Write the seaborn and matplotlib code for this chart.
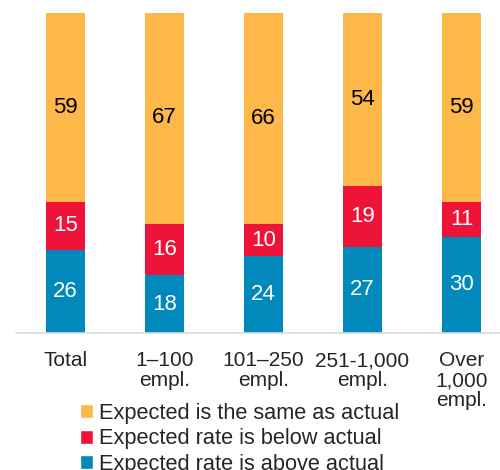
import pandas as pd
import numpy as np
import matplotlib.pyplot as plt
import seaborn as sns
from matplotlib.patches import Patch

# values (percent)
groups = ["Total", "1\u2013100\nempl.", "101\u2013250\nempl.", "251-1,000\nempl.", "Over\n1,000\nempl."]
above = [26, 18, 24, 27, 30]
below = [15, 16, 10, 19, 11]
same = [59, 67, 66, 54, 59]

series_names = ["Expected is the same as actual",
                "Expected rate is below actual",
                "Expected rate is above actual"]
colors = {"same": "#FDB849", "below": "#EE1439", "above": "#0089BA"}

df = pd.DataFrame({"group": groups, "above": above, "below": below, "same": same})
df["cum_below"] = df["above"] + df["below"]
df["cum_same"] = df["cum_below"] + df["same"]

sns.set_style("white")
plt.rcParams["font.family"] = ["Liberation Sans", "DejaVu Sans"]

fig = plt.figure(figsize=(5.0, 4.7), dpi=100)
ax = fig.add_axes([16 / 500, (470 - 333) / 470, 484 / 500, 320 / 470])

# stacked bars drawn as overlapping cumulative totals
sns.barplot(data=df, x="group", y="cum_same", color=colors["same"], width=0.4,
            saturation=1, ax=ax, linewidth=0)
sns.barplot(data=df, x="group", y="cum_below", color=colors["below"], width=0.4,
            saturation=1, ax=ax, linewidth=0)
sns.barplot(data=df, x="group", y="above", color=colors["above"], width=0.4,
            saturation=1, ax=ax, linewidth=0)

# segment labels
for i, row in df.iterrows():
    ax.text(i, row["above"] / 2, f"{row['above']}", ha="center", va="center",
            color="white", fontsize=16)
    ax.text(i, row["above"] + row["below"] / 2, f"{row['below']}", ha="center",
            va="center", color="white", fontsize=16)
    ax.text(i, row["cum_below"] + row["same"] / 2, f"{row['same']}", ha="center",
            va="center", color="black", fontsize=16)

ax.set_xlim(-0.5, -0.5 + 484 / 99)
ax.set_ylim(0, 100)
ax.set_xlabel("")
ax.set_ylabel("")
ax.set_yticks([])
ax.tick_params(axis="x", length=0, pad=13, labelsize=15)
for lbl in ax.get_xticklabels():
    lbl.set_multialignment("center")
    lbl.set_linespacing(1.08)

for side in ["top", "right", "left"]:
    ax.spines[side].set_visible(False)
ax.spines["bottom"].set_color("#d9d9d9")
ax.spines["bottom"].set_linewidth(1.2)

handles = [Patch(facecolor=colors["same"], label=series_names[0]),
           Patch(facecolor=colors["below"], label=series_names[1]),
           Patch(facecolor=colors["above"], label=series_names[2])]
fig.legend(handles=handles, loc="upper left", bbox_to_anchor=(80 / 500, 1 - 403 / 470),
           frameon=False, fontsize=15.7, handlelength=0.6, handleheight=0.6,
           handletextpad=0.25, labelspacing=0.2, borderaxespad=0, borderpad=0)

fig.savefig("out.png", dpi=100)
